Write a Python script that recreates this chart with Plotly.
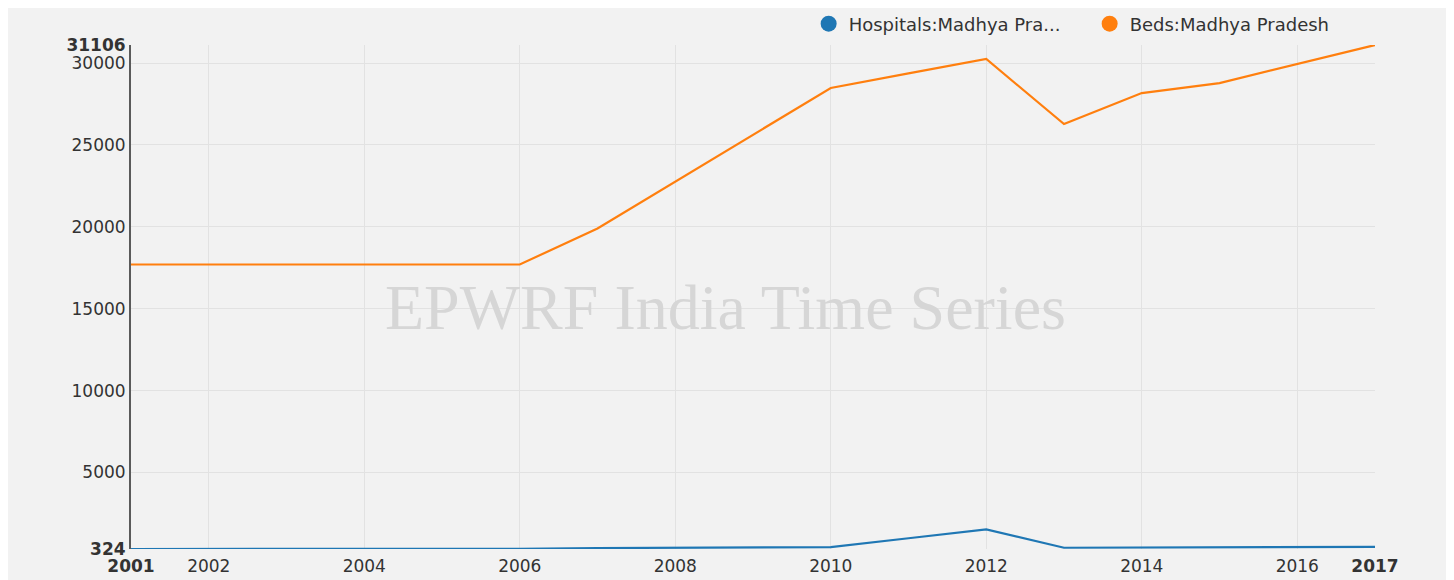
import plotly.graph_objects as go

years = list(range(2001, 2018))
hospitals = [324, 324, 324, 324, 324, 330, 380, 400, 410, 440, 980, 1525, 400, 420, 430, 440, 450]
beds = [17700, 17700, 17700, 17700, 17700, 17700, 19900, 22760, 25640, 28480, 29370, 30250,
        26280, 28170, 28780, 29950, 31106]

series_names = ["Hospitals:Madhya Pra...", "Beds:Madhya Pradesh"]
colors = ["#1f77b4", "#ff7f0e"]

x_tickvals = [2001, 2002, 2004, 2006, 2008, 2010, 2012, 2014, 2016, 2017]
x_ticktext = ["<b>2001</b>", "2002", "2004", "2006", "2008", "2010", "2012", "2014", "2016", "<b>2017</b>"]
y_tickvals = [324, 5000, 10000, 15000, 20000, 25000, 30000, 31106]
y_ticktext = ["<b>324</b>", "5000", "10000", "15000", "20000", "25000", "30000", "<b>31106</b>"]

fig = go.Figure()
for name, vals, c in zip(series_names, [hospitals, beds], colors):
    fig.add_trace(go.Scatter(x=years, y=vals, mode="lines", name=name,
                             line=dict(color=c, width=2.2), showlegend=False))
    fig.add_trace(go.Scatter(x=[None], y=[None], mode="markers", name=name,
                             marker=dict(color=c, size=16, symbol="circle"), showlegend=True))

font = "DejaVu Sans, Arial, sans-serif"
fig.update_layout(
    width=1446, height=572,
    margin=dict(l=123, r=79, t=37, b=31, autoexpand=False),
    paper_bgcolor="#f2f2f2", plot_bgcolor="#f2f2f2",
    font=dict(family=font, size=17, color="#333333"),
    showlegend=True,
    legend=dict(orientation="h", x=0.9965, xanchor="right", y=1.0417, yanchor="middle",
                font=dict(family=font, size=18, color="#333333"),
                bgcolor="rgba(0,0,0,0)", itemwidth=30, tracegroupgap=0,
                entrywidth=236, entrywidthmode="pixels"),
    xaxis=dict(range=[2001, 2017], tickmode="array", tickvals=x_tickvals, ticktext=x_ticktext,
               showgrid=False, zeroline=False, showline=False,
               ticks="outside", ticklen=2, tickcolor="rgba(0,0,0,0)",
               minor=dict(tick0=2002, dtick=2, showgrid=True, gridcolor="#e2e2e2", gridwidth=1)),
    yaxis=dict(range=[324, 31106], tickmode="array", tickvals=y_tickvals, ticktext=y_ticktext,
               showgrid=False, zeroline=False, showline=True, linecolor="#5a5a5a", linewidth=2,
               ticks="",
               minor=dict(tick0=0, dtick=5000, showgrid=True, gridcolor="#e2e2e2", gridwidth=1)),
    annotations=[dict(text="EPWRF India Time Series", x=0.4775, y=0.479, xref="paper", yref="paper",
                      showarrow=False, font=dict(family="Liberation Serif, Times New Roman, serif",
                                                 size=64, color="#d6d6d6"))],
)
fig.write_html("out.html")
